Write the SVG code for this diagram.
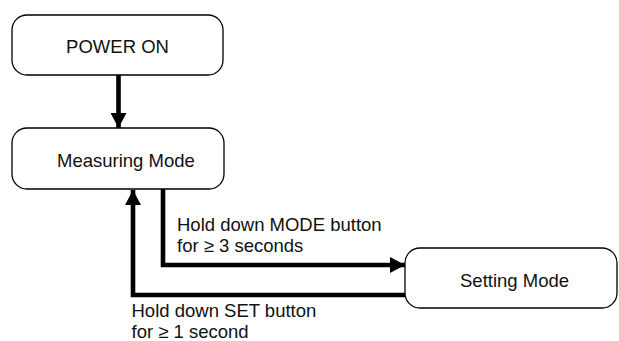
<svg xmlns="http://www.w3.org/2000/svg" width="619" height="341" viewBox="0 0 619 341">
<defs>
<style>
.box{fill:#fff;stroke:#000;stroke-width:1.3}
.t{font-family:"Liberation Sans",Arial,sans-serif;font-size:18.5px;fill:#111}
.c{fill:none;stroke:#000;stroke-width:4.6}
</style>
<marker id="ah" markerUnits="userSpaceOnUse" markerWidth="16" markerHeight="16" viewBox="0 0 15 16" refX="15" refY="8" orient="auto">
<path d="M0,0 L15,8 L0,16 Z" fill="#000"/>
</marker>
</defs>
<rect width="619" height="341" fill="#fff"/>
<g id="connectors">
<path class="c" d="M118.5,75 V128" marker-end="url(#ah)"/>
<path class="c" d="M163,189 V265 H405" marker-end="url(#ah)"/>
<path class="c" d="M405,295 H133 V190" marker-end="url(#ah)"/>
</g>
<g id="power-on">
<rect class="box" x="12" y="15" width="211" height="60" rx="15"/>
<text class="t" x="117.5" y="53" text-anchor="middle">POWER ON</text>
</g>
<g id="measuring-mode">
<rect class="box" x="12" y="128" width="212" height="61" rx="15"/>
<text class="t" x="57" y="167">Measuring Mode</text>
</g>
<g id="setting-mode">
<rect class="box" x="405" y="248" width="212" height="60" rx="15"/>
<text class="t" x="460" y="287">Setting Mode</text>
</g>
<g id="labels">
<text class="t" x="177" y="231">Hold down MODE button</text>
<text class="t" x="177" y="252">for ≥ 3 seconds</text>
<text class="t" x="131.5" y="317">Hold down SET button</text>
<text class="t" x="131.5" y="338">for ≥ 1 second</text>
</g>
</svg>
